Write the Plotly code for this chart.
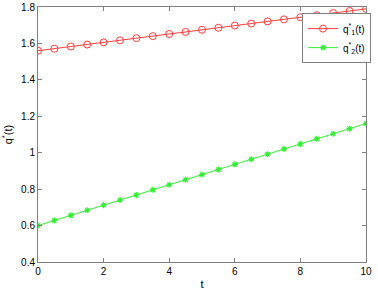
import plotly.graph_objects as go

t = [0, 0.5, 1, 1.5, 2, 2.5, 3, 3.5, 4, 4.5, 5, 5.5, 6, 6.5, 7, 7.5, 8, 8.5, 9, 9.5, 10]
q1 = [1.560, 1.571, 1.583, 1.594, 1.606, 1.617, 1.629, 1.640, 1.652, 1.663, 1.675,
      1.686, 1.698, 1.709, 1.721, 1.732, 1.744, 1.755, 1.767, 1.778, 1.790]
q2 = [0.600, 0.628, 0.656, 0.684, 0.712, 0.740, 0.768, 0.796, 0.824, 0.852, 0.880,
      0.908, 0.936, 0.964, 0.992, 1.020, 1.048, 1.076, 1.104, 1.132, 1.160]
xticks = [0, 2, 4, 6, 8, 10]
yticks = [0.4, 0.6, 0.8, 1.0, 1.2, 1.4, 1.6, 1.8]
yticklabels = ["0.4", "0.6", "0.8", "1", "1.2", "1.4", "1.6", "1.8"]

FONT = "Liberation Sans, Arial"

fig = go.Figure()
fig.add_trace(go.Scatter(x=t, y=q1, mode="lines+markers", name="q<sup>*</sup><sub>1</sub>(t)",
                         line=dict(color="#ff3b3b", width=1),
                         marker=dict(symbol="circle-open", size=7, color="#ff3b3b", line=dict(width=1))))
fig.add_trace(go.Scatter(x=t, y=q2, mode="lines+markers", name="q<sup>*</sup><sub>2</sub>(t)",
                         line=dict(color="#33ee33", width=1),
                         marker=dict(symbol="asterisk-open", size=5, color="#33ee33",
                                     line=dict(width=1.2, color="#33ee33"))))

axis_common = dict(showline=True, linecolor="#808080", linewidth=1, mirror="ticks",
                   ticks="inside", ticklen=4, tickcolor="#808080", showgrid=False, zeroline=False,
                   automargin=False,
                   tickfont=dict(family=FONT, size=10, color="black"))
fig.update_xaxes(range=[0, 10], tickvals=xticks,
                 title=dict(text="t", standoff=4, font=dict(family=FONT, size=11, color="black")),
                 **axis_common)
fig.update_yaxes(range=[0.4, 1.8], tickvals=yticks, ticktext=yticklabels,
                 title=dict(text="q<sup>*</sup>(t)", standoff=6, font=dict(family=FONT, size=11, color="black")),
                 **axis_common)
fig.update_layout(width=378, height=296, margin=dict(l=38, r=8, t=7, b=34),
                  plot_bgcolor="white", paper_bgcolor="white", showlegend=True,
                  legend=dict(x=0.805, y=0.976, xanchor="left", yanchor="top", bgcolor="white",
                              bordercolor="#808080", borderwidth=1,
                              font=dict(family=FONT, size=10, color="black"),
                              tracegroupgap=0, itemwidth=30))
fig.write_html("out.html", config={"displayModeBar": False},
               post_script="document.body.style.margin='0px';")
